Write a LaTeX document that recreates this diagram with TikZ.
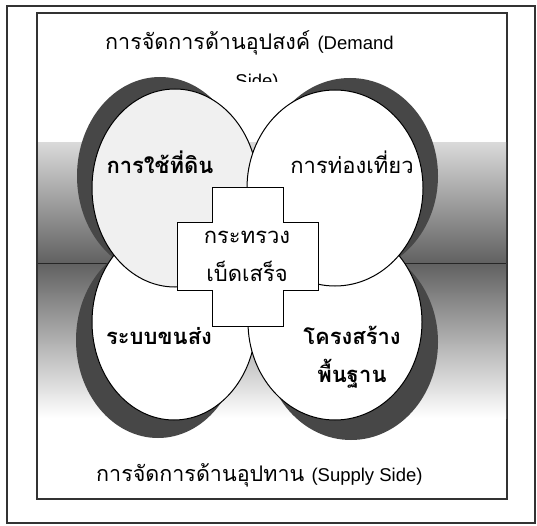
\documentclass[tikz,border=0pt]{standalone}
\usepackage{fontspec}
\newfontfamily\thai[Script=Thai]{Loma}
\newfontfamily\lat{Liberation Sans}
\newcommand{\latpart}[1]{{\lat\fontsize{18.5}{22}\selectfont #1}}
\begin{document}
\begin{tikzpicture}[x=1pt,y=-1pt]
\tikzset{
  frame/.style={draw=black!80,line width=1.4pt},
  darkring/.style={fill=black!72},
  disc/.style={fill=white,draw=black,line width=1pt},
  crossbox/.style={fill=white,draw=black,line width=1pt},
  title/.style={font=\thai\fontsize{21.5}{24}\selectfont,inner sep=0pt,anchor=base west},
  lbl/.style={font=\thai\bfseries\fontsize{22}{26}\selectfont,inner sep=0pt,align=center},
  lblm/.style={font=\thai\fontsize{22}{26}\selectfont,inner sep=0pt,align=center}
}
\useasboundingbox (0,0) rectangle (537,526);
\fill[white] (0,0) rectangle (537,526);
% frames
\draw[frame] (7,6) rectangle (535,523);
\draw[frame] (37,13) rectangle (507,499);
% shaded bands
\shade[top color=black!15,bottom color=black!62] (38,143) rectangle (506,263);
\shade[top color=black!62,bottom color=white] (38,263) rectangle (506,418);
\draw[black!85,line width=1pt] (38,263) -- (506,263);
% titles
\node[title] (t1) at (105,50) {การจัดการด้านอุปสงค์ \latpart{(Demand}};
\begin{scope}
\clip (200,60) rectangle (320,82);
\node[title,anchor=base] (t2) at (257,88) {\latpart{Side)}};
\end{scope}
\node[title,anchor=base west] (t3) at (96,481) {การจัดการด้านอุปทาน \latpart{(Supply Side)}};
% dark crescents
\fill[darkring] (160,176) ellipse [x radius=83,y radius=99];
\fill[darkring] (350,176) ellipse [x radius=88,y radius=98];
\fill[darkring] (158,340) ellipse [x radius=82,y radius=98];
\fill[darkring] (351,342) ellipse [x radius=87,y radius=98];
% discs
\path[disc] (174,322) ellipse [x radius=82,y radius=98];
\path[disc] (335,322) ellipse [x radius=87,y radius=98];
\path[disc,fill=black!6] (175,188) ellipse [x radius=83,y radius=99];
\path[disc] (335,188) ellipse [x radius=88,y radius=98];
% cross
\path[crossbox] (212,188) -- (283,188) -- (283,223) -- (318,223) -- (318,290)
  -- (283,290) -- (283,326) -- (212,326) -- (212,290) -- (177,290)
  -- (177,223) -- (212,223) -- cycle;
% labels
\node[lbl] (land) at (160,162) {การใช้ที่ดิน};
\node[lblm] (tour) at (352,162) {การท่องเที่ยว};
\node[lblm] (min) at (247,256) {กระทรวง\\[12pt]เบ็ดเสร็จ};
\node[lbl] (trans) at (159,336) {ระบบขนส่ง};
\node[lbl] (infra) at (352,357) {โครงสร้าง\\[12pt]พื้นฐาน};
\end{tikzpicture}
\end{document}
